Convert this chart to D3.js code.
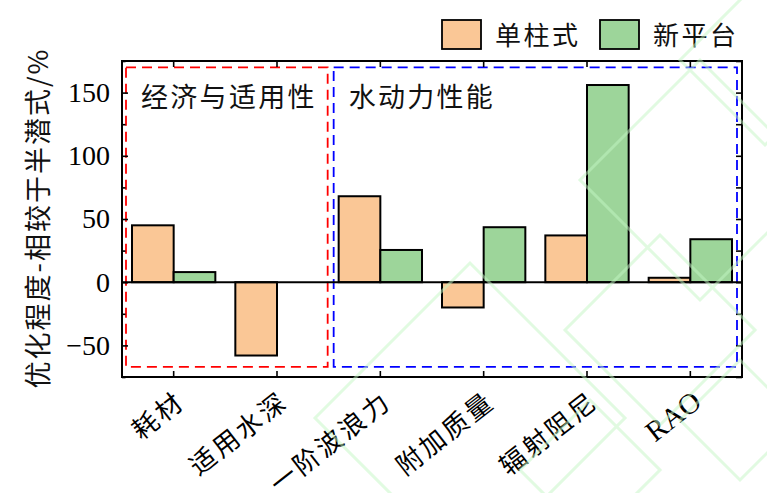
<!DOCTYPE html>
<html>
<head>
<meta charset="utf-8">
<script src="https://cdn.jsdelivr.net/npm/d3@7"></script>
<style>
    body { margin: 0; background: #fff; }
    svg { display: block; }
</style>
</head>
<body>
<div id="chart"></div>
<script>
// data
const categories = ['耗材', '适用水深', '一阶波浪力', '附加质量', '辐射阻尼', 'RAO'];
const seriesNames = ['单柱式', '新平台'];
const singleColumn = [45, -58, 68, -20, 37, 3.5];
const newPlatform = [8, 0, 25.5, 43.5, 156, 34];
const yTicks = [-50, 0, 50, 100, 150];
const yMinorTicks = [-75, -25, 25, 75, 125, 175];
const groupNames = ['经济与适用性', '水动力性能'];
const groupFirst = ['耗材', '一阶波浪力'];
const groupLast = ['适用水深', 'RAO'];
const groupTop = 170;
const groupBottom = -67;

(function () {
    const width = 767, height = 493;
    const padding = { top: 61, right: 25, bottom: 116, left: 122 };
    const innerWidth = width - padding.left - padding.right;
    const innerHeight = height - padding.top - padding.bottom;
    const colors = ['#fac796', '#9dd59a'];
    const groupColors = ['#ff0000', '#0000ff'];
    const cjk = '"Noto Sans CJK SC", sans-serif';
    const serif = '"Liberation Serif", "DejaVu Serif", serif';

    const svg = d3.select('#chart').append('svg').attr('width', width).attr('height', height);

    // faint watermark diamonds in the background
    const marks = [[470, 418, 155], [660, 330, 95], [700, 180, 120], [765, 60, 85], [590, 470, 70], [740, 420, 60]];
    const wm = svg.append('g').attr('fill', 'none').attr('stroke', '#c4f7c4')
        .attr('stroke-width', 3).attr('opacity', 0.5);

    const xScale = d3.scaleBand().domain(categories).range([0, innerWidth]).padding(0);
    const xInner = d3.scaleBand().domain(seriesNames).range([0, xScale.bandwidth()])
        .paddingInner(0).paddingOuter(0.24);
    const yScale = d3.scaleLinear().domain([-75, 175]).range([innerHeight, 0]);

    const g = svg.append('g').attr('transform', `translate(${padding.left},${padding.top})`);

    // dashed group boxes
    for (let k = 0; k < groupNames.length; k++) {
        const x0 = xScale(groupFirst[k]) + (k === 0 ? 4 : 5);
        const x1 = xScale(groupLast[k]) + xScale.bandwidth() - (k === 0 ? 1 : 5);
        g.append('rect')
            .attr('x', x0).attr('y', yScale(groupTop))
            .attr('width', x1 - x0).attr('height', yScale(groupBottom) - yScale(groupTop))
            .attr('fill', 'none').attr('stroke', groupColors[k])
            .attr('stroke-width', 1.8).attr('stroke-dasharray', '10,6');
        g.append('text')
            .attr('x', x0 + 15).attr('y', yScale(groupTop) + 40)
            .attr('font-family', cjk).attr('font-size', 27).attr('letter-spacing', 2.3)
            .attr('fill', '#111')
            .text(groupNames[k]);
    }

    // bars
    const data_lists = [singleColumn, newPlatform];
    for (let j = 0; j < data_lists.length; j++) {
        g.selectAll('.bar' + j).data(data_lists[j]).enter().append('rect')
            .attr('class', 'bar' + j)
            .attr('x', (d, i) => xScale(categories[i]) + xInner(seriesNames[j]))
            .attr('y', d => yScale(Math.max(0, d)))
            .attr('width', xInner.bandwidth())
            .attr('height', d => Math.abs(yScale(d) - yScale(0)))
            .attr('fill', colors[j])
            .attr('stroke', '#000').attr('stroke-width', 2);
    }

    // zero line
    g.append('line')
        .attr('x1', 0).attr('x2', innerWidth)
        .attr('y1', yScale(0)).attr('y2', yScale(0))
        .attr('stroke', '#000').attr('stroke-width', 2);

    // axes with inward ticks on all sides
    const left = g.append('g').call(d3.axisLeft(yScale).tickValues(yTicks).tickSize(-6).tickPadding(12));
    const leftMinor = g.append('g').call(d3.axisLeft(yScale).tickValues(yMinorTicks).tickSize(-3.5).tickFormat(''));
    const right = g.append('g').attr('transform', `translate(${innerWidth},0)`)
        .call(d3.axisRight(yScale).tickValues(yTicks).tickSize(-6).tickFormat(''));
    const rightMinor = g.append('g').attr('transform', `translate(${innerWidth},0)`)
        .call(d3.axisRight(yScale).tickValues(yMinorTicks).tickSize(-6).tickFormat(''));
    const bottom = g.append('g').attr('transform', `translate(0,${innerHeight})`)
        .call(d3.axisBottom(xScale).tickSize(-6).tickFormat(''));
    const top = g.append('g')
        .call(d3.axisTop(xScale).tickSize(-6).tickFormat(''));

    [left, leftMinor, right, rightMinor, bottom, top].forEach(a => {
        a.select('.domain').remove();
        a.selectAll('.tick line').attr('stroke', '#000').attr('stroke-width', 1.6);
    });
    left.selectAll('.tick text')
        .attr('font-family', serif).attr('font-size', 28).attr('fill', '#000');

    // frame
    g.append('rect')
        .attr('x', 0).attr('y', 0).attr('width', innerWidth).attr('height', innerHeight)
        .attr('fill', 'none').attr('stroke', '#000').attr('stroke-width', 2);

    // rotated category labels
    g.selectAll('.xlabel').data(categories).enter().append('text')
        .attr('class', 'xlabel')
        .attr('transform', d => `translate(${xScale(d) + xScale.bandwidth() / 2 + 13},${innerHeight + 28}) rotate(-38)`)
        .attr('text-anchor', 'end')
        .attr('font-family', d => d === 'RAO' ? serif : cjk)
        .attr('font-size', d => d === 'RAO' ? 29 : 26)
        .attr('letter-spacing', d => d === 'RAO' ? 0 : 3)
        .attr('fill', '#000')
        .text(d => d);

    // y axis title
    svg.append('text')
        .attr('transform', `translate(48,${padding.top + innerHeight / 2 - 1}) rotate(-90)`)
        .attr('text-anchor', 'middle')
        .attr('font-family', cjk).attr('font-size', 27).attr('letter-spacing', 2)
        .attr('fill', '#111')
        .text('优化程度-相较于半潜式/%');

    // legend
    const legendX = [442, 600];
    for (let j = 0; j < seriesNames.length; j++) {
        svg.append('rect')
            .attr('x', legendX[j]).attr('y', 20).attr('width', 39).attr('height', 29)
            .attr('fill', colors[j]).attr('stroke', '#000').attr('stroke-width', 1.8);
        svg.append('text')
            .attr('x', legendX[j] + 53).attr('y', 45)
            .attr('font-family', cjk).attr('font-size', 26).attr('letter-spacing', 2.5)
            .attr('fill', '#111')
            .text(seriesNames[j]);
    }

    marks.forEach(m => {
        wm.append('path')
            .attr('d', `M${m[0] - m[2]},${m[1]}L${m[0]},${m[1] - m[2]}L${m[0] + m[2]},${m[1]}L${m[0]},${m[1] + m[2]}Z`);
    });
    wm.raise();
})();
</script>
</body>
</html>
